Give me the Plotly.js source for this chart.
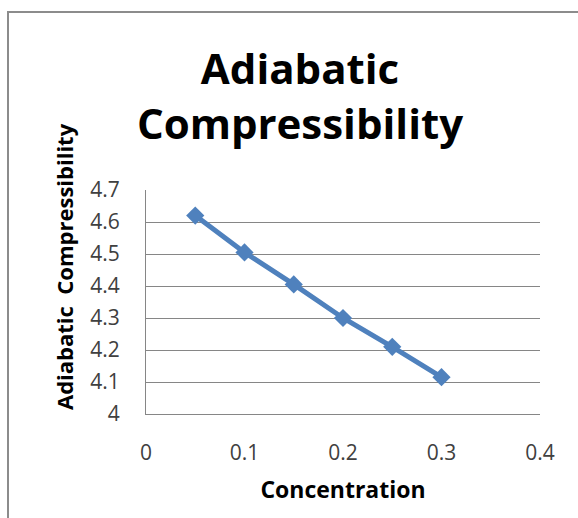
<!DOCTYPE html>
<html>
<head>
<meta charset="utf-8">
<script src="https://cdn.plot.ly/plotly-3.0.1.min.js"></script>
<style>
  html, body { margin: 0; padding: 0; background: #ffffff; }
  #chart { width: 578px; height: 518px; }
</style>
</head>
<body>
<div id="chart"></div>
<script>
// Adiabatic compressibility versus concentration
const concentration = [0.05, 0.10, 0.15, 0.20, 0.25, 0.30];
const compressibility = [4.62, 4.505, 4.405, 4.30, 4.21, 4.115];

const xTickVals = [0, 0.1, 0.2, 0.3, 0.4];
const xTickText = ['0', '0.1', '0.2', '0.3', '0.4'];
const yTickVals = [4, 4.1, 4.2, 4.3, 4.4, 4.5, 4.6, 4.7];
const yTickText = ['4', '4.1', '4.2', '4.3', '4.4', '4.5', '4.6', '4.7'];

const W = 578, H = 518;
const M = { l: 146, r: 38, t: 190, b: 104 };
const plotW = W - M.l - M.r, plotH = H - M.t - M.b;
// pixel -> paper coordinate helpers for decorations outside the plot area
const px = v => (v - M.l) / plotW;
const py = v => (H - M.b - v) / plotH;

const font = "'Open Sans', Lato, sans-serif";
const lineColor = '#4F81BD';
const gridColor = '#868686';
const tickColor = '#404040';

const trace = {
  type: 'scatter',
  mode: 'lines+markers',
  x: concentration,
  y: compressibility,
  line: { color: lineColor, width: 5 },
  marker: { symbol: 'diamond', size: 14, color: lineColor },
  showlegend: false,
  cliponaxis: false
};

const layout = {
  width: W,
  height: H,
  margin: M,
  paper_bgcolor: '#ffffff',
  plot_bgcolor: '#ffffff',
  font: { family: font, color: tickColor, size: 21 },
  title: {
    text: 'Adiabatic<br>Compressibility',
    font: { family: font, size: 42, color: '#000000', weight: 'bold' },
    xref: 'container', x: 300 / W, xanchor: 'center',
    yref: 'container', y: 1 - 84 / H, yanchor: 'top'
  },
  xaxis: {
    range: [0, 0.4],
    tickvals: xTickVals,
    ticktext: xTickText,
    showgrid: false,
    zeroline: false,
    showline: true,
    linecolor: gridColor,
    linewidth: 1,
    ticks: '',
    tickfont: { family: font, size: 21, color: tickColor },
    ticklabelstandoff: 20,
    title: {
      text: 'Concentration',
      font: { family: font, size: 23, color: '#000000', weight: 'bold' },
      standoff: 16
    },
    fixedrange: true
  },
  yaxis: {
    range: [4, 4.7],
    tickvals: yTickVals,
    ticktext: yTickText,
    showgrid: true,
    gridcolor: gridColor,
    gridwidth: 1,
    zeroline: false,
    showline: true,
    linecolor: gridColor,
    linewidth: 1,
    ticks: '',
    tickfont: { family: font, size: 21, color: tickColor },
    ticklabelstandoff: 21,
    fixedrange: true
  },
  annotations: [{
    text: 'Adiabatic  Compressibility',
    textangle: -90,
    xref: 'paper', yref: 'paper',
    x: px(64), y: py(267),
    xanchor: 'center', yanchor: 'middle',
    showarrow: false,
    font: { family: font, size: 22, color: '#000000', weight: 'bold' }
  }],
  shapes: [
    {
      type: 'path', xref: 'paper', yref: 'paper',
      path: `M ${px(8)} ${py(H + 5)} L ${px(8)} ${py(12)} L ${px(W + 5)} ${py(12)}`,
      line: { color: '#8c8c8c', width: 2 }
    }
  ]
};

Plotly.newPlot('chart', [trace], layout, { displayModeBar: false, staticPlot: true });
</script>
</body>
</html>
